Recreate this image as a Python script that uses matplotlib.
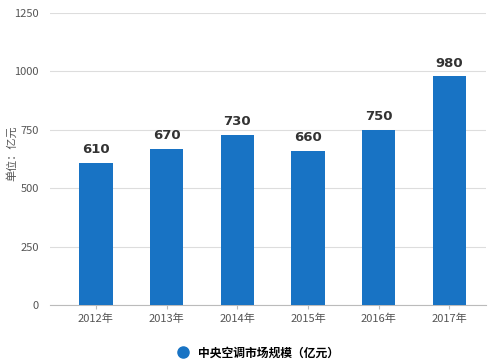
import matplotlib.pyplot as plt
import numpy as np

plt.rcParams['font.family'] = ['Noto Sans CJK SC', 'DejaVu Sans']

# data
years = ['2012年', '2013年', '2014年', '2015年', '2016年', '2017年']
values = [610, 670, 730, 660, 750, 980]
yticks = [0, 250, 500, 750, 1000, 1250]

fig = plt.figure(figsize=(5, 3.64), dpi=100)
ax = fig.add_axes([0.1, 0.162, 0.872, 0.802])

x = np.arange(len(years))
ax.bar(x, values, width=0.47, color='#1873c4', zorder=3, label='中央空调市场规模（亿元）')

# value labels above the bars
for xi, v in zip(x, values):
    ax.text(xi, v + 28, str(v), ha='center', va='bottom', fontsize=9.5,
            fontweight='bold', color='#333333', family='DejaVu Sans')

ax.set_ylim(0, 1250)
ax.set_xlim(-0.65, 5.52)
ax.set_yticks(yticks)
ax.set_xticks(x)
ax.set_xticklabels(years)
ax.tick_params(axis='y', length=0, labelsize=8, colors='#555555', pad=8)
ax.tick_params(axis='x', length=3, labelsize=8, colors='#555555', pad=3)
ax.tick_params(axis='x', color='#bbbbbb')
ax.yaxis.grid(True, color='#dddddd', linewidth=0.8, zorder=0)
for s in ['top', 'right', 'left']:
    ax.spines[s].set_visible(False)
ax.spines['bottom'].set_color('#bbbbbb')

# y unit label, placed in figure coords so it stays inside the image
fig.text(0.024, 0.58, '单位：亿元', rotation=90, ha='center', va='center',
         fontsize=8, color='#555555')

# legend at the bottom
ax.legend(handles=[plt.Line2D([], [], marker='o', linestyle='', color='#1873c4',
                              markersize=8)],
          labels=['中央空调市场规模（亿元）'], loc='upper center',
          bbox_to_anchor=(0.47, -0.105), frameon=False, handletextpad=0.3,
          prop={'size': 8.5, 'weight': 'bold'})

fig.savefig('out.png', dpi=100)
